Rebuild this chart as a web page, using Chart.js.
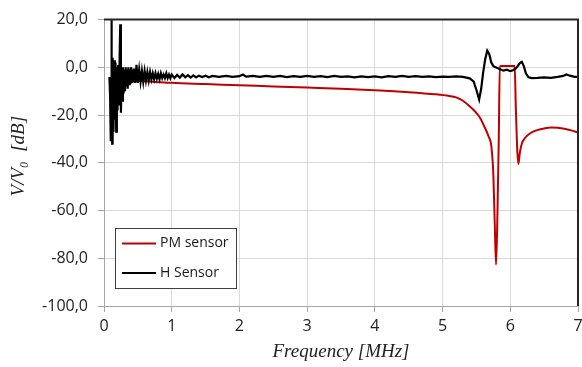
<!DOCTYPE html>
<html><head><meta charset="utf-8">
<script src="https://cdn.jsdelivr.net/npm/chart.js@4.4.1/dist/chart.umd.min.js"></script>
<style>html,body{margin:0;padding:0;background:#fff}#wrap{width:582px;height:367px;position:relative}</style>
</head><body><div id="wrap"><canvas id="c" width="582" height="367"></canvas></div>
<script>
const seriesNames = ['PM sensor', 'H Sensor'];
const seriesColors = ['#c00000', '#000000'];

const freqPM = [0.08,0.15,0.3,0.5,0.75,1.0,1.5,2.0,2.5,3.0,3.5,4.0,4.5,4.9,5.1,5.2,5.3,5.4,5.48,5.55,5.62,5.68,5.72,5.75,5.77,5.79,5.81,5.83,5.845,5.9,6.0,6.065,6.08,6.1,6.12,6.14,6.17,6.22,6.3,6.4,6.5,6.6,6.7,6.8,6.9,7.0];
const valPM  = [-4.8,-5.0,-5.4,-5.7,-6.1,-6.5,-7.0,-7.5,-8.0,-8.5,-9.0,-9.6,-10.4,-11.3,-12.0,-12.6,-14.0,-16.3,-18.5,-21,-25,-29,-33,-45,-65,-82.7,-62,-30,0.6,0.6,0.6,0.6,-15,-33,-40.5,-36,-32,-29.5,-27.5,-26.3,-25.6,-25.2,-25.3,-25.7,-26.4,-27.3];

const freqH = [0.08,0.09,0.10,0.105,0.11,0.115,0.12,0.125,0.13,0.14,0.15,0.16,0.17,0.18,0.19,0.20,0.21,0.22,0.23,0.24,0.25,0.26,0.27,0.28,0.29,0.30,0.31,0.32,0.33,0.34,0.35,0.36,0.37,0.38,0.39,0.40,0.42,0.44,0.46,0.48,0.50,0.52,0.54,0.56,0.58,0.60,0.62,0.64,0.66,0.68,0.70,0.72,0.74,0.76,0.78,0.80,0.82,0.84,0.86,0.88,0.90,0.92,0.94,0.96,0.98,1.00,1.04,1.08,1.12,1.16,1.20,1.24,1.28,1.32,1.36,1.40,1.45,1.50,1.55,1.60,1.7,1.8,1.9,2.0,2.05,2.1,2.2,2.3,2.4,2.5,2.6,2.7,2.8,2.9,3.0,3.1,3.2,3.3,3.4,3.5,3.6,3.7,3.8,3.9,4.0,4.1,4.2,4.3,4.4,4.5,4.6,4.7,4.8,4.9,5.0,5.1,5.2,5.3,5.4,5.46,5.5,5.54,5.57,5.6,5.63,5.66,5.69,5.72,5.75,5.8,5.85,5.9,5.95,6.0,6.04,6.08,6.11,6.14,6.17,6.2,6.23,6.27,6.32,6.4,6.5,6.6,6.7,6.78,6.83,6.88,6.95,7.0];
const valH  = [-4,-12,-31,-20,21,-10,-32,-5,4,-27,3,-22,2,-27,0,-18,1,-16,3,18,-19,-1,-14,0,-11,-1,-10,0,-8,-1,-9,0,-7,-1,-7,0,-6.5,-0.5,-6.5,1,-6.5,-1,-6,-1.5,-6,-1.5,-5.5,-2,-5.5,-2,-5,-2.5,-5,-2.5,-4.8,-2.8,-5,-2.5,-4.5,-3,-4.5,-2.5,-4.5,-3,-4.5,-3,-4.5,-3.2,-4.3,-3.0,-4.2,-3.3,-4.3,-3.4,-4.2,-3.5,-4.1,-3.5,-4.2,-3.6,-4.0,-3.6,-4.0,-3.7,-3.0,-3.9,-3.6,-4.0,-3.6,-4.0,-3.6,-4.1,-3.7,-4.0,-3.6,-4.0,-3.7,-4.1,-3.6,-4.0,-3.8,-4.2,-3.8,-4.1,-3.8,-4.2,-3.7,-4.0,-3.6,-4.0,-3.7,-4.0,-3.8,-4.1,-3.9,-4.0,-3.8,-4.0,-4.6,-6,-9.5,-13.5,-9,-2,3.5,7,5.5,2,0.5,-0.2,-0.8,-1.4,-1.0,-1.6,-1.2,-0.5,0.5,1.8,2.3,0.5,-2.5,-4.2,-4.5,-4.4,-4.2,-4.4,-4.0,-3.6,-3.0,-3.5,-4.0,-4.0];

const xTicks = [0,1,2,3,4,5,6,7];
const yTicks = [20,0,-20,-40,-60,-80,-100];

const toXY = (fs, vs) => fs.map((f, i) => ({x: f, y: vs[i]}));

const frame = {
  id: 'frame',
  afterDraw(chart) {
    const {ctx, chartArea: a} = chart;
    ctx.save();
    ctx.strokeStyle = '#262626';
    ctx.lineWidth = 2;
    ctx.beginPath();
    ctx.moveTo(a.left, a.top);
    ctx.lineTo(a.right, a.top);
    ctx.lineTo(a.right, a.bottom);
    ctx.stroke();
    ctx.restore();
  }
};

const legendBox = {
  id: 'legendBox',
  afterDatasetsDraw(chart) {
    const ctx = chart.ctx;
    ctx.save();
    ctx.fillStyle = '#fff';
    ctx.fillRect(115.5, 228.5, 121, 60);
    ctx.strokeStyle = '#404040';
    ctx.lineWidth = 1;
    ctx.strokeRect(115.5, 228.5, 121, 60);
    chart.data.datasets.forEach((ds, i) => {
      const y = 243.5 + i * 29.5;
      ctx.strokeStyle = ds.borderColor;
      ctx.lineWidth = 2;
      ctx.beginPath();
      ctx.moveTo(122, y);
      ctx.lineTo(156, y);
      ctx.stroke();
      ctx.fillStyle = '#1a1a1a';
      ctx.font = '14px "Open Sans"';
      ctx.textBaseline = 'middle';
      ctx.fillText(ds.label, 160, y);
    });
    ctx.restore();
  }
};

new Chart(document.getElementById('c'), {
  type: 'line',
  data: {
    datasets: [
      {label: seriesNames[0], data: toXY(freqPM, valPM), borderColor: seriesColors[0], borderWidth: 2, pointRadius: 0, cubicInterpolationMode: 'monotone', order: 1},
      {label: seriesNames[1], data: toXY(freqH, valH), borderColor: seriesColors[1], borderWidth: 2.2, pointRadius: 0, tension: 0, order: 0}
    ]
  },
  options: {
    responsive: false,
    devicePixelRatio: 1,
    animation: false,
    layout: {padding: {left: 0, right: 4, top: 13, bottom: 0}},
    plugins: {legend: {display: false}, tooltip: {enabled: false}},
    scales: {
      x: {
        type: 'linear', min: 0, max: 7,
        afterBuildTicks: s => { s.ticks = xTicks.map(v => ({value: v})); },
        afterFit: s => { s.height = 61; s.paddingLeft = 0; s.paddingRight = 0; },
        ticks: {font: {family: 'Open Sans', size: 16}, color: '#222', padding: 5, maxRotation: 0},
        grid: {color: '#d9d9d9', tickColor: '#a6a6a6', tickLength: 6},
        border: {color: '#a6a6a6', width: 1},
        title: {display: true, text: 'Frequency [MHz]', font: {family: 'Liberation Serif', style: 'italic', size: 19}, color: '#222', padding: {top: 0, bottom: 4}}
      },
      y: {
        min: -100, max: 20,
        afterBuildTicks: s => { s.ticks = yTicks.map(v => ({value: v})); },
        afterFit: s => { s.width = 104; },
        ticks: {font: {family: 'Open Sans', size: 16}, color: '#222', padding: 10, callback: v => v.toFixed(1).replace('.', ',')},
        grid: {color: '#d9d9d9', tickColor: '#a6a6a6', tickLength: 6},
        border: {color: '#a6a6a6', width: 1},
        title: {display: true, text: '\u2002\u2009V/V\u2080  [dB]', font: {family: 'Liberation Serif', style: 'italic', size: 19}, color: '#222', padding: {top: 8, bottom: 0}}
      }
    }
  },
  plugins: [frame, legendBox]
});
</script>
</body></html>
